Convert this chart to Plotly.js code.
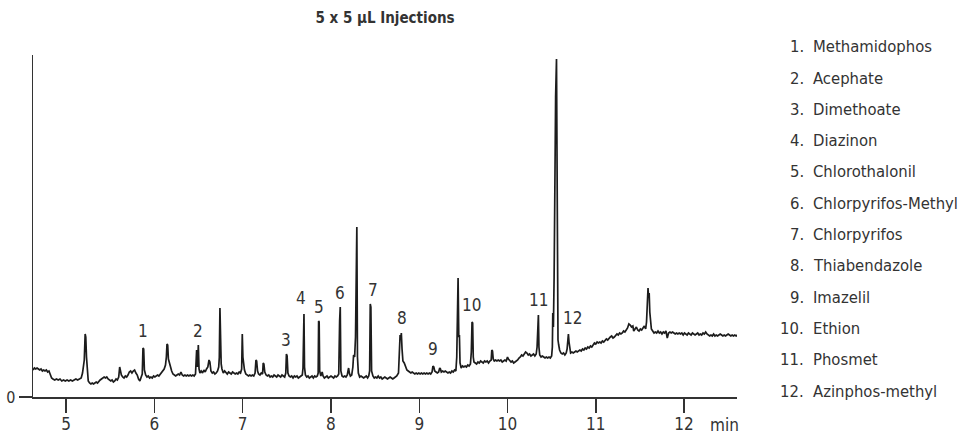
<!DOCTYPE html>
<html><head><meta charset="utf-8">
<script src="https://cdn.plot.ly/plotly-3.0.1.min.js"></script>
<style>html,body{margin:0;padding:0;background:#fff}#chart{width:962px;height:436px}</style>
</head><body><div id="chart"></div>
<script>
// retention time (min), detector response (arbitrary units)
const chromatogram = [
[4.625,27],[4.64,29],[4.655,28],[4.67,29],[4.685,28],[4.70,27],[4.715,28],[4.73,26],[4.745,27],[4.76,26],[4.775,27],[4.79,25],[4.805,26],[4.82,22],[4.835,19],[4.85,18],[4.87,17],[4.89,18],[4.91,17],[4.93,18],[4.95,16],[4.97,17],[4.99,16],[5.01,17],[5.03,16],[5.05,17],[5.07,16],[5.09,17],[5.11,18],[5.13,17],[5.15,18],[5.17,19],[5.185,24],[5.195,35],[5.205,37],[5.215,63],[5.222,60],[5.23,40],[5.24,22],[5.25,16],[5.265,14],[5.28,13],[5.295,14],[5.31,13],[5.325,14],[5.34,15],[5.355,14],[5.37,16],[5.385,17],[5.40,18],[5.415,19],[5.43,20],[5.445,19],[5.46,20],[5.475,18],[5.49,17],[5.505,16],[5.52,17],[5.535,15],[5.55,16],[5.565,18],[5.58,17],[5.595,20],[5.606,30],[5.615,26],[5.625,22],[5.64,20],[5.655,19],[5.67,21],[5.685,20],[5.70,22],[5.715,25],[5.73,26],[5.745,24],[5.76,26],[5.775,27],[5.79,24],[5.805,22],[5.82,18],[5.835,16],[5.85,20],[5.862,23],[5.87,49],[5.878,48],[5.886,27],[5.90,22],[5.915,20],[5.93,21],[5.945,19],[5.96,20],[5.975,19],[5.99,21],[6.005,20],[6.02,21],[6.035,22],[6.05,21],[6.065,23],[6.08,24],[6.095,26],[6.11,28],[6.125,32],[6.135,40],[6.142,53],[6.15,52],[6.158,38],[6.168,34],[6.18,30],[6.195,26],[6.21,23],[6.225,22],[6.24,21],[6.255,22],[6.27,23],[6.285,22],[6.30,25],[6.315,22],[6.33,21],[6.345,22],[6.36,21],[6.375,22],[6.39,21],[6.405,22],[6.42,21],[6.435,22],[6.45,21],[6.465,23],[6.478,47],[6.488,30],[6.497,52],[6.505,28],[6.515,24],[6.53,26],[6.545,24],[6.56,27],[6.575,25],[6.59,28],[6.605,30],[6.618,37],[6.628,35],[6.64,26],[6.655,24],[6.67,25],[6.685,23],[6.70,24],[6.715,26],[6.728,30],[6.735,40],[6.742,89],[6.748,54],[6.756,33],[6.765,28],[6.78,24],[6.795,26],[6.81,24],[6.825,23],[6.84,25],[6.855,24],[6.87,23],[6.885,25],[6.90,24],[6.915,23],[6.93,24],[6.945,23],[6.96,25],[6.975,24],[6.988,28],[6.995,63],[7.002,40],[7.01,35],[7.02,27],[7.035,23],[7.05,22],[7.065,21],[7.08,22],[7.095,21],[7.11,22],[7.125,21],[7.14,24],[7.15,37],[7.158,36],[7.168,26],[7.18,23],[7.195,22],[7.21,24],[7.225,23],[7.232,34],[7.24,33],[7.25,25],[7.265,22],[7.28,21],[7.295,22],[7.31,20],[7.325,21],[7.34,20],[7.355,22],[7.37,21],[7.385,20],[7.40,22],[7.415,21],[7.43,20],[7.445,22],[7.46,21],[7.475,20],[7.488,24],[7.495,43],[7.503,41],[7.512,24],[7.525,21],[7.54,20],[7.555,21],[7.57,19],[7.585,21],[7.60,20],[7.615,21],[7.63,19],[7.645,20],[7.66,21],[7.675,22],[7.683,29],[7.688,80],[7.694,83],[7.70,30],[7.71,22],[7.725,20],[7.74,21],[7.755,19],[7.77,20],[7.785,21],[7.80,19],[7.815,21],[7.83,20],[7.845,21],[7.855,24],[7.86,76],[7.866,75],[7.872,26],[7.885,21],[7.90,25],[7.91,21],[7.925,19],[7.94,20],[7.955,21],[7.97,19],[7.985,20],[8.00,21],[8.015,20],[8.03,19],[8.045,21],[8.06,20],[8.075,21],[8.088,23],[8.098,76],[8.105,90],[8.112,26],[8.125,21],[8.14,20],[8.155,21],[8.17,20],[8.185,22],[8.195,27],[8.20,29],[8.208,24],[8.22,21],[8.235,22],[8.248,30],[8.256,42],[8.268,40],[8.278,60],[8.285,150],[8.293,170],[8.30,40],[8.31,24],[8.325,20],[8.34,21],[8.355,20],[8.37,19],[8.385,20],[8.40,21],[8.415,19],[8.428,21],[8.438,26],[8.445,93],[8.452,90],[8.46,26],[8.475,21],[8.49,19],[8.505,20],[8.52,19],[8.535,21],[8.55,19],[8.565,20],[8.58,18],[8.595,19],[8.61,20],[8.625,19],[8.64,18],[8.655,19],[8.67,20],[8.685,19],[8.70,18],[8.715,19],[8.73,20],[8.745,21],[8.765,24],[8.775,55],[8.783,62],[8.79,58],[8.797,64],[8.805,48],[8.815,36],[8.83,34],[8.845,30],[8.86,27],[8.875,26],[8.89,25],[8.905,24],[8.92,25],[8.935,24],[8.95,23],[8.965,24],[8.98,23],[8.995,24],[9.01,23],[9.025,24],[9.04,23],[9.055,24],[9.07,23],[9.085,24],[9.10,23],[9.115,24],[9.13,23],[9.145,25],[9.155,31],[9.165,30],[9.175,26],[9.19,25],[9.205,24],[9.22,25],[9.232,29],[9.24,28],[9.25,25],[9.265,26],[9.28,25],[9.295,26],[9.31,25],[9.325,24],[9.34,25],[9.355,24],[9.37,26],[9.385,25],[9.40,27],[9.415,26],[9.425,40],[9.432,107],[9.44,119],[9.448,60],[9.455,62],[9.462,34],[9.475,29],[9.49,31],[9.505,30],[9.52,31],[9.535,30],[9.55,32],[9.565,31],[9.58,33],[9.59,45],[9.598,75],[9.605,74],[9.612,40],[9.62,35],[9.635,34],[9.65,33],[9.665,35],[9.68,34],[9.695,36],[9.71,35],[9.725,34],[9.74,36],[9.755,35],[9.77,36],[9.785,34],[9.80,36],[9.815,37],[9.822,47],[9.83,46],[9.838,38],[9.85,36],[9.865,37],[9.88,36],[9.895,37],[9.91,36],[9.925,37],[9.94,35],[9.955,36],[9.97,37],[9.985,36],[10.0,40],[10.01,38],[10.025,36],[10.04,35],[10.055,36],[10.07,34],[10.085,35],[10.10,36],[10.115,37],[10.13,39],[10.145,40],[10.16,42],[10.175,41],[10.19,43],[10.205,45],[10.22,44],[10.235,42],[10.25,43],[10.265,41],[10.28,42],[10.295,43],[10.31,41],[10.325,43],[10.335,50],[10.342,77],[10.35,82],[10.356,50],[10.365,42],[10.38,40],[10.395,41],[10.41,40],[10.425,39],[10.44,40],[10.455,39],[10.47,40],[10.485,39],[10.50,41],[10.508,50],[10.513,84],[10.52,70],[10.528,120],[10.535,247],[10.545,300],[10.555,338],[10.56,200],[10.565,80],[10.572,57],[10.58,52],[10.59,47],[10.605,44],[10.62,43],[10.635,44],[10.65,42],[10.665,44],[10.675,48],[10.685,58],[10.69,63],[10.697,55],[10.705,47],[10.715,44],[10.73,45],[10.745,44],[10.76,45],[10.775,46],[10.79,45],[10.805,46],[10.82,47],[10.835,46],[10.85,48],[10.865,47],[10.88,49],[10.895,48],[10.91,50],[10.925,49],[10.94,51],[10.955,50],[10.97,52],[10.985,54],[11.0,53],[11.015,55],[11.03,54],[11.045,55],[11.06,54],[11.075,56],[11.09,55],[11.105,57],[11.12,58],[11.135,57],[11.15,59],[11.165,60],[11.18,61],[11.195,59],[11.21,60],[11.225,62],[11.24,63],[11.255,62],[11.27,64],[11.285,63],[11.30,64],[11.315,66],[11.33,65],[11.345,67],[11.36,69],[11.375,73],[11.39,72],[11.405,70],[11.42,71],[11.43,66],[11.445,68],[11.46,70],[11.475,67],[11.49,66],[11.505,68],[11.52,67],[11.535,69],[11.55,71],[11.565,68],[11.575,75],[11.585,95],[11.592,109],[11.598,100],[11.605,104],[11.612,85],[11.62,72],[11.63,68],[11.645,66],[11.66,64],[11.675,65],[11.69,64],[11.705,66],[11.72,64],[11.735,65],[11.75,63],[11.765,65],[11.78,64],[11.795,66],[11.81,59],[11.825,64],[11.84,65],[11.855,64],[11.87,65],[11.885,64],[11.90,63],[11.915,64],[11.93,63],[11.945,64],[11.96,63],[11.975,64],[11.99,62],[12.005,64],[12.02,63],[12.035,62],[12.05,64],[12.065,63],[12.08,62],[12.095,64],[12.11,63],[12.125,62],[12.14,63],[12.155,64],[12.17,62],[12.185,63],[12.20,62],[12.215,64],[12.23,63],[12.245,65],[12.26,63],[12.275,62],[12.29,61],[12.305,62],[12.32,61],[12.335,63],[12.35,61],[12.365,62],[12.38,61],[12.395,62],[12.41,63],[12.425,62],[12.44,61],[12.455,62],[12.47,61],[12.485,62],[12.50,63],[12.515,62],[12.53,61],[12.545,62],[12.56,61],[12.575,62],[12.59,61],[12.605,62]
];
const retentionTime = chromatogram.map(p => p[0]);
const response = chromatogram.map(p => p[1]);

const peakNumbers = ['1','2','3','4','5','6','7','8','9','10','11','12'];
const peakLabelTime = [5.87, 6.497, 7.486, 7.664, 7.86, 8.105, 8.471, 8.80, 9.151, 9.592, 10.347, 10.733];
const peakLabelHeight = [66, 66, 57, 99, 90, 104, 107, 79, 48, 92, 97, 79];
const compounds = ['Methamidophos','Acephate','Dimethoate','Diazinon','Chlorothalonil','Chlorpyrifos-Methyl','Chlorpyrifos','Thiabendazole','Imazelil','Ethion','Phosmet','Azinphos-methyl'];
const xTickValues = [5, 6, 7, 8, 9, 10, 11, 12];
const chartTitle = '5 x 5 µL Injections';

const FONT = '"DejaVu Sans Condensed", "Liberation Sans Narrow", sans-serif';
const TXT = '#333';

const annotations = [];
peakNumbers.forEach((n, i) => {
  annotations.push({x: peakLabelTime[i], y: peakLabelHeight[i], xref: 'x', yref: 'y', text: n,
    showarrow: false, xanchor: 'center', yanchor: 'middle', font: {family: FONT, size: 17, color: TXT}});
});
// compound list on the right
const W = 704, H = 342;
compounds.forEach((c, i) => {
  const py = 46.7 + i * 31.3;
  const yp = (397 - py) / H;
  annotations.push({x: (806 - 33) / W, y: yp, xref: 'paper', yref: 'paper', text: peakNumbers[i] + '.',
    showarrow: false, xanchor: 'right', yanchor: 'middle', font: {family: FONT, size: 16.5, color: TXT}});
  annotations.push({x: (811 - 33) / W, y: yp, xref: 'paper', yref: 'paper', text: c,
    showarrow: false, xanchor: 'left', yanchor: 'middle', font: {family: FONT, size: 16.5, color: TXT}});
});
annotations.push({x: (724 - 33) / W, y: 0, xref: 'paper', yref: 'paper', yshift: -28, text: 'min',
  showarrow: false, xanchor: 'center', yanchor: 'middle', font: {family: FONT, size: 17, color: TXT}});

const data = [{
  x: retentionTime, y: response, type: 'scatter', mode: 'lines',
  line: {color: '#1c1c1c', width: 1.7}, hoverinfo: 'skip'
}];

const layout = {
  width: 962, height: 436,
  margin: {l: 33, r: 225, t: 55, b: 39, pad: 0},
  paper_bgcolor: '#fff', plot_bgcolor: '#fff',
  showlegend: false,
  title: {text: '<b>' + chartTitle + '</b>', x: 0.5, xref: 'paper', xanchor: 'center',
    y: 1 - 18 / 436, yref: 'container', yanchor: 'middle',
    font: {family: FONT, size: 15, color: TXT}},
  xaxis: {
    range: [4.624, 12.6], showgrid: false, zeroline: false,
    showline: true, linecolor: '#333', linewidth: 1.5,
    ticks: 'outside', ticklen: 14, tickwidth: 1.5, tickcolor: '#333',
    tickmode: 'array', tickvals: xTickValues, ticktext: xTickValues.map(String),
    ticklabelstandoff: -3,
    tickfont: {family: FONT, size: 17, color: TXT}
  },
  yaxis: {
    range: [0, 342], showgrid: false, zeroline: false,
    showline: true, linecolor: '#333', linewidth: 1.5,
    ticks: 'outside', ticklen: 13, tickwidth: 1.5, tickcolor: '#333',
    tickmode: 'array', tickvals: [0], ticktext: ['0'],
    tickfont: {family: FONT, size: 16, color: TXT}
  },
  annotations: annotations
};

Plotly.newPlot('chart', data, layout, {staticPlot: true, displayModeBar: false});
</script>
</body></html>
